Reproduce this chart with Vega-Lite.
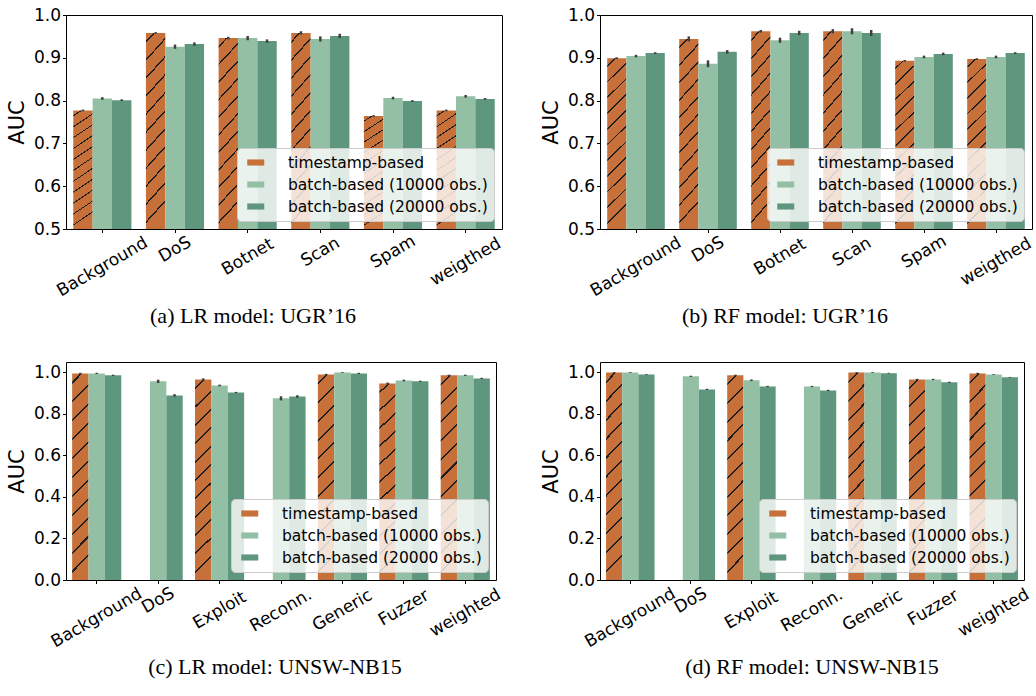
{
  "$schema": "https://vega.github.io/schema/vega-lite/v6.json",
  "padding": {"left": 5, "top": 5, "right": 0, "bottom": 0},
  "config": {
    "font": "DejaVu Sans",
    "view": {"stroke": "black", "strokeWidth": 1},
    "axis": {"labelFont": "DejaVu Sans", "labelFontSize": 17, "labelColor": "black", "titleFont": "DejaVu Sans", "titleFontSize": 21, "titleFontWeight": "normal", "titleColor": "black", "tickColor": "black", "tickSize": 3.5, "tickWidth": 1, "domain": false, "grid": false, "labelOverlap": false},
    "legend": {"orient": "bottom-right", "offset": 8, "padding": 6, "rowPadding": 5, "labelFont": "DejaVu Sans", "labelFontSize": 15.5, "labelColor": "black", "labelOffset": 28, "symbolType": "M-0.5,-0.36H1.5V0.36H-0.5Z", "symbolSize": 289, "symbolStrokeWidth": 0, "fillColor": "rgba(255,255,255,0.8)", "strokeColor": "#cccccc", "cornerRadius": 4, "labelLimit": 300},
    "title": {"font": "Liberation Serif", "fontSize": 22, "fontWeight": "normal", "color": "black", "orient": "bottom", "anchor": "middle", "offset": 7}
  },
  "datasets": {
    "a": [
      {"cat": "Background", "method": "timestamp-based", "auc": 0.777, "lo": 0.775, "hi": 0.779},
      {"cat": "Background", "method": "batch-based (10000 obs.)", "auc": 0.805, "lo": 0.802, "hi": 0.808},
      {"cat": "Background", "method": "batch-based (20000 obs.)", "auc": 0.801, "lo": 0.799, "hi": 0.803},
      {"cat": "DoS", "method": "timestamp-based", "auc": 0.958, "lo": 0.956, "hi": 0.960},
      {"cat": "DoS", "method": "batch-based (10000 obs.)", "auc": 0.926, "lo": 0.921, "hi": 0.931},
      {"cat": "DoS", "method": "batch-based (20000 obs.)", "auc": 0.932, "lo": 0.928, "hi": 0.936},
      {"cat": "Botnet", "method": "timestamp-based", "auc": 0.946, "lo": 0.943, "hi": 0.949},
      {"cat": "Botnet", "method": "batch-based (10000 obs.)", "auc": 0.946, "lo": 0.941, "hi": 0.951},
      {"cat": "Botnet", "method": "batch-based (20000 obs.)", "auc": 0.939, "lo": 0.935, "hi": 0.943},
      {"cat": "Scan", "method": "timestamp-based", "auc": 0.958, "lo": 0.954, "hi": 0.962},
      {"cat": "Scan", "method": "batch-based (10000 obs.)", "auc": 0.944, "lo": 0.938, "hi": 0.950},
      {"cat": "Scan", "method": "batch-based (20000 obs.)", "auc": 0.951, "lo": 0.946, "hi": 0.956},
      {"cat": "Spam", "method": "timestamp-based", "auc": 0.764, "lo": 0.762, "hi": 0.766},
      {"cat": "Spam", "method": "batch-based (10000 obs.)", "auc": 0.806, "lo": 0.803, "hi": 0.809},
      {"cat": "Spam", "method": "batch-based (20000 obs.)", "auc": 0.799, "lo": 0.797, "hi": 0.801},
      {"cat": "weigthed", "method": "timestamp-based", "auc": 0.777, "lo": 0.775, "hi": 0.779},
      {"cat": "weigthed", "method": "batch-based (10000 obs.)", "auc": 0.810, "lo": 0.807, "hi": 0.813},
      {"cat": "weigthed", "method": "batch-based (20000 obs.)", "auc": 0.804, "lo": 0.802, "hi": 0.806}
    ],
    "b": [
      {"cat": "Background", "method": "timestamp-based", "auc": 0.899, "lo": 0.897, "hi": 0.901},
      {"cat": "Background", "method": "batch-based (10000 obs.)", "auc": 0.904, "lo": 0.901, "hi": 0.907},
      {"cat": "Background", "method": "batch-based (20000 obs.)", "auc": 0.911, "lo": 0.909, "hi": 0.913},
      {"cat": "DoS", "method": "timestamp-based", "auc": 0.944, "lo": 0.938, "hi": 0.950},
      {"cat": "DoS", "method": "batch-based (10000 obs.)", "auc": 0.886, "lo": 0.878, "hi": 0.894},
      {"cat": "DoS", "method": "batch-based (20000 obs.)", "auc": 0.914, "lo": 0.910, "hi": 0.918},
      {"cat": "Botnet", "method": "timestamp-based", "auc": 0.962, "lo": 0.959, "hi": 0.965},
      {"cat": "Botnet", "method": "batch-based (10000 obs.)", "auc": 0.941, "lo": 0.935, "hi": 0.947},
      {"cat": "Botnet", "method": "batch-based (20000 obs.)", "auc": 0.958, "lo": 0.953, "hi": 0.963},
      {"cat": "Scan", "method": "timestamp-based", "auc": 0.962, "lo": 0.957, "hi": 0.967},
      {"cat": "Scan", "method": "batch-based (10000 obs.)", "auc": 0.962, "lo": 0.955, "hi": 0.969},
      {"cat": "Scan", "method": "batch-based (20000 obs.)", "auc": 0.958, "lo": 0.951, "hi": 0.965},
      {"cat": "Spam", "method": "timestamp-based", "auc": 0.893, "lo": 0.891, "hi": 0.895},
      {"cat": "Spam", "method": "batch-based (10000 obs.)", "auc": 0.902, "lo": 0.899, "hi": 0.905},
      {"cat": "Spam", "method": "batch-based (20000 obs.)", "auc": 0.909, "lo": 0.906, "hi": 0.912},
      {"cat": "weigthed", "method": "timestamp-based", "auc": 0.897, "lo": 0.895, "hi": 0.899},
      {"cat": "weigthed", "method": "batch-based (10000 obs.)", "auc": 0.902, "lo": 0.899, "hi": 0.905},
      {"cat": "weigthed", "method": "batch-based (20000 obs.)", "auc": 0.911, "lo": 0.909, "hi": 0.913}
    ],
    "c": [
      {"cat": "Background", "method": "timestamp-based", "auc": 0.995, "lo": 0.992, "hi": 0.998},
      {"cat": "Background", "method": "batch-based (10000 obs.)", "auc": 0.995, "lo": 0.992, "hi": 0.998},
      {"cat": "Background", "method": "batch-based (20000 obs.)", "auc": 0.986, "lo": 0.983, "hi": 0.989},
      {"cat": "DoS", "method": "batch-based (10000 obs.)", "auc": 0.957, "lo": 0.949, "hi": 0.965},
      {"cat": "DoS", "method": "batch-based (20000 obs.)", "auc": 0.889, "lo": 0.883, "hi": 0.895},
      {"cat": "Exploit", "method": "timestamp-based", "auc": 0.966, "lo": 0.961, "hi": 0.971},
      {"cat": "Exploit", "method": "batch-based (10000 obs.)", "auc": 0.937, "lo": 0.933, "hi": 0.941},
      {"cat": "Exploit", "method": "batch-based (20000 obs.)", "auc": 0.903, "lo": 0.900, "hi": 0.906},
      {"cat": "Reconn.", "method": "batch-based (10000 obs.)", "auc": 0.875, "lo": 0.865, "hi": 0.885},
      {"cat": "Reconn.", "method": "batch-based (20000 obs.)", "auc": 0.884, "lo": 0.878, "hi": 0.890},
      {"cat": "Generic", "method": "timestamp-based", "auc": 0.990, "lo": 0.987, "hi": 0.993},
      {"cat": "Generic", "method": "batch-based (10000 obs.)", "auc": 0.999, "lo": 0.997, "hi": 1.001},
      {"cat": "Generic", "method": "batch-based (20000 obs.)", "auc": 0.995, "lo": 0.992, "hi": 0.998},
      {"cat": "Fuzzer", "method": "timestamp-based", "auc": 0.946, "lo": 0.941, "hi": 0.951},
      {"cat": "Fuzzer", "method": "batch-based (10000 obs.)", "auc": 0.961, "lo": 0.957, "hi": 0.965},
      {"cat": "Fuzzer", "method": "batch-based (20000 obs.)", "auc": 0.957, "lo": 0.954, "hi": 0.960},
      {"cat": "weighted", "method": "timestamp-based", "auc": 0.986, "lo": 0.983, "hi": 0.989},
      {"cat": "weighted", "method": "batch-based (10000 obs.)", "auc": 0.986, "lo": 0.983, "hi": 0.989},
      {"cat": "weighted", "method": "batch-based (20000 obs.)", "auc": 0.971, "lo": 0.968, "hi": 0.974}
    ],
    "d": [
      {"cat": "Background", "method": "timestamp-based", "auc": 0.999, "lo": 0.997, "hi": 1.001},
      {"cat": "Background", "method": "batch-based (10000 obs.)", "auc": 0.999, "lo": 0.997, "hi": 1.001},
      {"cat": "Background", "method": "batch-based (20000 obs.)", "auc": 0.990, "lo": 0.988, "hi": 0.992},
      {"cat": "DoS", "method": "batch-based (10000 obs.)", "auc": 0.981, "lo": 0.978, "hi": 0.984},
      {"cat": "DoS", "method": "batch-based (20000 obs.)", "auc": 0.918, "lo": 0.915, "hi": 0.921},
      {"cat": "Exploit", "method": "timestamp-based", "auc": 0.986, "lo": 0.983, "hi": 0.989},
      {"cat": "Exploit", "method": "batch-based (10000 obs.)", "auc": 0.962, "lo": 0.958, "hi": 0.966},
      {"cat": "Exploit", "method": "batch-based (20000 obs.)", "auc": 0.932, "lo": 0.929, "hi": 0.935},
      {"cat": "Reconn.", "method": "batch-based (10000 obs.)", "auc": 0.932, "lo": 0.929, "hi": 0.935},
      {"cat": "Reconn.", "method": "batch-based (20000 obs.)", "auc": 0.913, "lo": 0.910, "hi": 0.916},
      {"cat": "Generic", "method": "timestamp-based", "auc": 0.999, "lo": 0.997, "hi": 1.001},
      {"cat": "Generic", "method": "batch-based (10000 obs.)", "auc": 0.999, "lo": 0.997, "hi": 1.001},
      {"cat": "Generic", "method": "batch-based (20000 obs.)", "auc": 0.996, "lo": 0.994, "hi": 0.998},
      {"cat": "Fuzzer", "method": "timestamp-based", "auc": 0.966, "lo": 0.963, "hi": 0.969},
      {"cat": "Fuzzer", "method": "batch-based (10000 obs.)", "auc": 0.966, "lo": 0.963, "hi": 0.969},
      {"cat": "Fuzzer", "method": "batch-based (20000 obs.)", "auc": 0.952, "lo": 0.949, "hi": 0.955},
      {"cat": "weighted", "method": "timestamp-based", "auc": 0.995, "lo": 0.992, "hi": 0.998},
      {"cat": "weighted", "method": "batch-based (10000 obs.)", "auc": 0.990, "lo": 0.988, "hi": 0.992},
      {"cat": "weighted", "method": "batch-based (20000 obs.)", "auc": 0.976, "lo": 0.974, "hi": 0.978}
    ]
  },
  "bounds": "flush",
  "columns": 2,
  "spacing": {"row": 133, "column": 98},
  "resolve": {"scale": {"x": "independent", "y": "independent", "color": "independent", "xOffset": "independent"}, "legend": {"color": "independent"}},
  "concat": [
    {
      "width": 436, "height": 214,
      "title": {"text": "(a) LR model: UGR’16", "dx": -31},
      "data": {"name": "a"},
      "encoding": {
        "x": {"field": "cat", "type": "nominal", "sort": ["Background", "DoS", "Botnet", "Scan", "Spam", "weigthed"], "scale": {"paddingInner": 0.2, "paddingOuter": 0.1}, "axis": {"title": null, "labelAngle": -30, "labelAlign": "center", "labelBaseline": "middle", "labelPadding": {"expr": "9 + 2.5*length(datum.label)"}}},
        "xOffset": {"field": "method", "type": "nominal", "sort": ["timestamp-based", "batch-based (10000 obs.)", "batch-based (20000 obs.)"], "scale": {"paddingInner": 0, "paddingOuter": 0}}
      },
      "layer": [
        {
          "mark": {"type": "bar", "clip": true},
          "encoding": {
            "y": {"field": "auc", "type": "quantitative", "scale": {"domain": [0.5, 1.0], "zero": false}, "axis": {"title": "AUC", "values": [0.5, 0.6, 0.7, 0.8, 0.9, 1.0], "format": ".1f", "labelPadding": 2, "titlePadding": 6}},
            "y2": {"datum": 0.5},
            "color": {
              "condition": {"test": "datum.method === 'timestamp-based'", "value": {"gradient": "linear", "x1": 0, "y1": 0, "x2": 0.11, "y2": 1, "stops": [{"offset": 0, "color": "#c8703a"}, {"offset": 0.0405, "color": "#c8703a"}, {"offset": 0.0405, "color": "#1e1e1e"}, {"offset": 0.0505, "color": "#1e1e1e"}, {"offset": 0.0505, "color": "#c8703a"}, {"offset": 0.1314, "color": "#c8703a"}, {"offset": 0.1314, "color": "#1e1e1e"}, {"offset": 0.1414, "color": "#1e1e1e"}, {"offset": 0.1414, "color": "#c8703a"}, {"offset": 0.2223, "color": "#c8703a"}, {"offset": 0.2223, "color": "#1e1e1e"}, {"offset": 0.2323, "color": "#1e1e1e"}, {"offset": 0.2323, "color": "#c8703a"}, {"offset": 0.3132, "color": "#c8703a"}, {"offset": 0.3132, "color": "#1e1e1e"}, {"offset": 0.3232, "color": "#1e1e1e"}, {"offset": 0.3232, "color": "#c8703a"}, {"offset": 0.4041, "color": "#c8703a"}, {"offset": 0.4041, "color": "#1e1e1e"}, {"offset": 0.4141, "color": "#1e1e1e"}, {"offset": 0.4141, "color": "#c8703a"}, {"offset": 0.495, "color": "#c8703a"}, {"offset": 0.495, "color": "#1e1e1e"}, {"offset": 0.505, "color": "#1e1e1e"}, {"offset": 0.505, "color": "#c8703a"}, {"offset": 0.5859, "color": "#c8703a"}, {"offset": 0.5859, "color": "#1e1e1e"}, {"offset": 0.5959, "color": "#1e1e1e"}, {"offset": 0.5959, "color": "#c8703a"}, {"offset": 0.6768, "color": "#c8703a"}, {"offset": 0.6768, "color": "#1e1e1e"}, {"offset": 0.6868, "color": "#1e1e1e"}, {"offset": 0.6868, "color": "#c8703a"}, {"offset": 0.7677, "color": "#c8703a"}, {"offset": 0.7677, "color": "#1e1e1e"}, {"offset": 0.7777, "color": "#1e1e1e"}, {"offset": 0.7777, "color": "#c8703a"}, {"offset": 0.8586, "color": "#c8703a"}, {"offset": 0.8586, "color": "#1e1e1e"}, {"offset": 0.8686, "color": "#1e1e1e"}, {"offset": 0.8686, "color": "#c8703a"}, {"offset": 0.9495, "color": "#c8703a"}, {"offset": 0.9495, "color": "#1e1e1e"}, {"offset": 0.9595, "color": "#1e1e1e"}, {"offset": 0.9595, "color": "#c8703a"}, {"offset": 1, "color": "#c8703a"}]}},
              "field": "method", "type": "nominal",
              "scale": {"domain": ["timestamp-based", "batch-based (10000 obs.)", "batch-based (20000 obs.)"], "range": ["#c8703a", "#93bfa5", "#5f967e"]},
              "legend": {"title": null, "encode": {"symbols": {"update": {"fill": {"signal": "datum.value === 'timestamp-based' ? {gradient: 'linear', x1: 0, y1: 0, x2: 1, y2: 0.353, stops: [{offset: 0, color: '#c8703a'}, {offset: 0.1, color: '#c8703a'}, {offset: 0.1, color: '#1e1e1e'}, {offset: 0.14, color: '#1e1e1e'}, {offset: 0.14, color: '#c8703a'}, {offset: 0.39, color: '#c8703a'}, {offset: 0.39, color: '#1e1e1e'}, {offset: 0.43, color: '#1e1e1e'}, {offset: 0.43, color: '#c8703a'}, {offset: 0.68, color: '#c8703a'}, {offset: 0.68, color: '#1e1e1e'}, {offset: 0.72, color: '#1e1e1e'}, {offset: 0.72, color: '#c8703a'}, {offset: 0.95, color: '#c8703a'}, {offset: 0.95, color: '#1e1e1e'}, {offset: 0.99, color: '#1e1e1e'}, {offset: 0.99, color: '#c8703a'}, {offset: 1, color: '#c8703a'}]} : datum.value === 'batch-based (10000 obs.)' ? '#93bfa5' : '#5f967e'"}}}}}
            }
          }
        },
        {
          "mark": {"type": "rule", "color": "#404040", "strokeWidth": 2.5, "clip": true},
          "encoding": {"y": {"field": "lo", "type": "quantitative"}, "y2": {"field": "hi"}}
        }
      ]
    },
    {
      "width": 432, "height": 214,
      "title": {"text": "(b) RF model: UGR’16", "dx": -31},
      "data": {"name": "b"},
      "encoding": {
        "x": {"field": "cat", "type": "nominal", "sort": ["Background", "DoS", "Botnet", "Scan", "Spam", "weigthed"], "scale": {"paddingInner": 0.2, "paddingOuter": 0.1}, "axis": {"title": null, "labelAngle": -30, "labelAlign": "center", "labelBaseline": "middle", "labelPadding": {"expr": "9 + 2.5*length(datum.label)"}}},
        "xOffset": {"field": "method", "type": "nominal", "sort": ["timestamp-based", "batch-based (10000 obs.)", "batch-based (20000 obs.)"], "scale": {"paddingInner": 0, "paddingOuter": 0}}
      },
      "layer": [
        {
          "mark": {"type": "bar", "clip": true},
          "encoding": {
            "y": {"field": "auc", "type": "quantitative", "scale": {"domain": [0.5, 1.0], "zero": false}, "axis": {"title": "AUC", "values": [0.5, 0.6, 0.7, 0.8, 0.9, 1.0], "format": ".1f", "labelPadding": 2, "titlePadding": 6}},
            "y2": {"datum": 0.5},
            "color": {
              "condition": {"test": "datum.method === 'timestamp-based'", "value": {"gradient": "linear", "x1": 0, "y1": 0, "x2": 0.11, "y2": 1, "stops": [{"offset": 0, "color": "#c8703a"}, {"offset": 0.0405, "color": "#c8703a"}, {"offset": 0.0405, "color": "#1e1e1e"}, {"offset": 0.0505, "color": "#1e1e1e"}, {"offset": 0.0505, "color": "#c8703a"}, {"offset": 0.1314, "color": "#c8703a"}, {"offset": 0.1314, "color": "#1e1e1e"}, {"offset": 0.1414, "color": "#1e1e1e"}, {"offset": 0.1414, "color": "#c8703a"}, {"offset": 0.2223, "color": "#c8703a"}, {"offset": 0.2223, "color": "#1e1e1e"}, {"offset": 0.2323, "color": "#1e1e1e"}, {"offset": 0.2323, "color": "#c8703a"}, {"offset": 0.3132, "color": "#c8703a"}, {"offset": 0.3132, "color": "#1e1e1e"}, {"offset": 0.3232, "color": "#1e1e1e"}, {"offset": 0.3232, "color": "#c8703a"}, {"offset": 0.4041, "color": "#c8703a"}, {"offset": 0.4041, "color": "#1e1e1e"}, {"offset": 0.4141, "color": "#1e1e1e"}, {"offset": 0.4141, "color": "#c8703a"}, {"offset": 0.495, "color": "#c8703a"}, {"offset": 0.495, "color": "#1e1e1e"}, {"offset": 0.505, "color": "#1e1e1e"}, {"offset": 0.505, "color": "#c8703a"}, {"offset": 0.5859, "color": "#c8703a"}, {"offset": 0.5859, "color": "#1e1e1e"}, {"offset": 0.5959, "color": "#1e1e1e"}, {"offset": 0.5959, "color": "#c8703a"}, {"offset": 0.6768, "color": "#c8703a"}, {"offset": 0.6768, "color": "#1e1e1e"}, {"offset": 0.6868, "color": "#1e1e1e"}, {"offset": 0.6868, "color": "#c8703a"}, {"offset": 0.7677, "color": "#c8703a"}, {"offset": 0.7677, "color": "#1e1e1e"}, {"offset": 0.7777, "color": "#1e1e1e"}, {"offset": 0.7777, "color": "#c8703a"}, {"offset": 0.8586, "color": "#c8703a"}, {"offset": 0.8586, "color": "#1e1e1e"}, {"offset": 0.8686, "color": "#1e1e1e"}, {"offset": 0.8686, "color": "#c8703a"}, {"offset": 0.9495, "color": "#c8703a"}, {"offset": 0.9495, "color": "#1e1e1e"}, {"offset": 0.9595, "color": "#1e1e1e"}, {"offset": 0.9595, "color": "#c8703a"}, {"offset": 1, "color": "#c8703a"}]}},
              "field": "method", "type": "nominal",
              "scale": {"domain": ["timestamp-based", "batch-based (10000 obs.)", "batch-based (20000 obs.)"], "range": ["#c8703a", "#93bfa5", "#5f967e"]},
              "legend": {"title": null, "encode": {"symbols": {"update": {"fill": {"signal": "datum.value === 'timestamp-based' ? {gradient: 'linear', x1: 0, y1: 0, x2: 1, y2: 0.353, stops: [{offset: 0, color: '#c8703a'}, {offset: 0.1, color: '#c8703a'}, {offset: 0.1, color: '#1e1e1e'}, {offset: 0.14, color: '#1e1e1e'}, {offset: 0.14, color: '#c8703a'}, {offset: 0.39, color: '#c8703a'}, {offset: 0.39, color: '#1e1e1e'}, {offset: 0.43, color: '#1e1e1e'}, {offset: 0.43, color: '#c8703a'}, {offset: 0.68, color: '#c8703a'}, {offset: 0.68, color: '#1e1e1e'}, {offset: 0.72, color: '#1e1e1e'}, {offset: 0.72, color: '#c8703a'}, {offset: 0.95, color: '#c8703a'}, {offset: 0.95, color: '#1e1e1e'}, {offset: 0.99, color: '#1e1e1e'}, {offset: 0.99, color: '#c8703a'}, {offset: 1, color: '#c8703a'}]} : datum.value === 'batch-based (10000 obs.)' ? '#93bfa5' : '#5f967e'"}}}}}
            }
          }
        },
        {
          "mark": {"type": "rule", "color": "#404040", "strokeWidth": 2.5, "clip": true},
          "encoding": {"y": {"field": "lo", "type": "quantitative"}, "y2": {"field": "hi"}}
        }
      ]
    },
    {
      "width": 430, "height": 218,
      "title": {"text": "(c) LR model: UNSW-NB15", "dx": -6},
      "data": {"name": "c"},
      "encoding": {
        "x": {"field": "cat", "type": "nominal", "sort": ["Background", "DoS", "Exploit", "Reconn.", "Generic", "Fuzzer", "weighted"], "scale": {"paddingInner": 0.2, "paddingOuter": 0.1}, "axis": {"title": null, "labelAngle": -30, "labelAlign": "center", "labelBaseline": "middle", "labelPadding": {"expr": "9 + 2.5*length(datum.label)"}}},
        "xOffset": {"field": "method", "type": "nominal", "sort": ["timestamp-based", "batch-based (10000 obs.)", "batch-based (20000 obs.)"], "scale": {"domain": ["timestamp-based", "batch-based (10000 obs.)", "batch-based (20000 obs.)"], "paddingInner": 0, "paddingOuter": 0}}
      },
      "layer": [
        {
          "mark": {"type": "bar", "clip": true},
          "encoding": {
            "y": {"field": "auc", "type": "quantitative", "scale": {"domain": [0, 1.05], "nice": false}, "axis": {"title": "AUC", "values": [0, 0.2, 0.4, 0.6, 0.8, 1.0], "format": ".1f", "labelPadding": 2, "titlePadding": 6}},
            "color": {
              "condition": {"test": "datum.method === 'timestamp-based'", "value": {"gradient": "linear", "x1": 0, "y1": 0, "x2": 0.08, "y2": 1, "stops": [{"offset": 0, "color": "#c8703a"}, {"offset": 0.0405, "color": "#c8703a"}, {"offset": 0.0405, "color": "#1e1e1e"}, {"offset": 0.0505, "color": "#1e1e1e"}, {"offset": 0.0505, "color": "#c8703a"}, {"offset": 0.1314, "color": "#c8703a"}, {"offset": 0.1314, "color": "#1e1e1e"}, {"offset": 0.1414, "color": "#1e1e1e"}, {"offset": 0.1414, "color": "#c8703a"}, {"offset": 0.2223, "color": "#c8703a"}, {"offset": 0.2223, "color": "#1e1e1e"}, {"offset": 0.2323, "color": "#1e1e1e"}, {"offset": 0.2323, "color": "#c8703a"}, {"offset": 0.3132, "color": "#c8703a"}, {"offset": 0.3132, "color": "#1e1e1e"}, {"offset": 0.3232, "color": "#1e1e1e"}, {"offset": 0.3232, "color": "#c8703a"}, {"offset": 0.4041, "color": "#c8703a"}, {"offset": 0.4041, "color": "#1e1e1e"}, {"offset": 0.4141, "color": "#1e1e1e"}, {"offset": 0.4141, "color": "#c8703a"}, {"offset": 0.495, "color": "#c8703a"}, {"offset": 0.495, "color": "#1e1e1e"}, {"offset": 0.505, "color": "#1e1e1e"}, {"offset": 0.505, "color": "#c8703a"}, {"offset": 0.5859, "color": "#c8703a"}, {"offset": 0.5859, "color": "#1e1e1e"}, {"offset": 0.5959, "color": "#1e1e1e"}, {"offset": 0.5959, "color": "#c8703a"}, {"offset": 0.6768, "color": "#c8703a"}, {"offset": 0.6768, "color": "#1e1e1e"}, {"offset": 0.6868, "color": "#1e1e1e"}, {"offset": 0.6868, "color": "#c8703a"}, {"offset": 0.7677, "color": "#c8703a"}, {"offset": 0.7677, "color": "#1e1e1e"}, {"offset": 0.7777, "color": "#1e1e1e"}, {"offset": 0.7777, "color": "#c8703a"}, {"offset": 0.8586, "color": "#c8703a"}, {"offset": 0.8586, "color": "#1e1e1e"}, {"offset": 0.8686, "color": "#1e1e1e"}, {"offset": 0.8686, "color": "#c8703a"}, {"offset": 0.9495, "color": "#c8703a"}, {"offset": 0.9495, "color": "#1e1e1e"}, {"offset": 0.9595, "color": "#1e1e1e"}, {"offset": 0.9595, "color": "#c8703a"}, {"offset": 1, "color": "#c8703a"}]}},
              "field": "method", "type": "nominal",
              "scale": {"domain": ["timestamp-based", "batch-based (10000 obs.)", "batch-based (20000 obs.)"], "range": ["#c8703a", "#93bfa5", "#5f967e"]},
              "legend": {"title": null, "encode": {"symbols": {"update": {"fill": {"signal": "datum.value === 'timestamp-based' ? {gradient: 'linear', x1: 0, y1: 0, x2: 1, y2: 0.353, stops: [{offset: 0, color: '#c8703a'}, {offset: 0.1, color: '#c8703a'}, {offset: 0.1, color: '#1e1e1e'}, {offset: 0.14, color: '#1e1e1e'}, {offset: 0.14, color: '#c8703a'}, {offset: 0.39, color: '#c8703a'}, {offset: 0.39, color: '#1e1e1e'}, {offset: 0.43, color: '#1e1e1e'}, {offset: 0.43, color: '#c8703a'}, {offset: 0.68, color: '#c8703a'}, {offset: 0.68, color: '#1e1e1e'}, {offset: 0.72, color: '#1e1e1e'}, {offset: 0.72, color: '#c8703a'}, {offset: 0.95, color: '#c8703a'}, {offset: 0.95, color: '#1e1e1e'}, {offset: 0.99, color: '#1e1e1e'}, {offset: 0.99, color: '#c8703a'}, {offset: 1, color: '#c8703a'}]} : datum.value === 'batch-based (10000 obs.)' ? '#93bfa5' : '#5f967e'"}}}}}
            }
          }
        },
        {
          "mark": {"type": "rule", "color": "#404040", "strokeWidth": 2.5, "clip": true},
          "encoding": {"y": {"field": "lo", "type": "quantitative"}, "y2": {"field": "hi"}}
        }
      ]
    },
    {
      "width": 424, "height": 218,
      "title": {"text": "(d) RF model: UNSW-NB15", "dx": 0},
      "data": {"name": "d"},
      "encoding": {
        "x": {"field": "cat", "type": "nominal", "sort": ["Background", "DoS", "Exploit", "Reconn.", "Generic", "Fuzzer", "weighted"], "scale": {"paddingInner": 0.2, "paddingOuter": 0.1}, "axis": {"title": null, "labelAngle": -30, "labelAlign": "center", "labelBaseline": "middle", "labelPadding": {"expr": "9 + 2.5*length(datum.label)"}}},
        "xOffset": {"field": "method", "type": "nominal", "sort": ["timestamp-based", "batch-based (10000 obs.)", "batch-based (20000 obs.)"], "scale": {"domain": ["timestamp-based", "batch-based (10000 obs.)", "batch-based (20000 obs.)"], "paddingInner": 0, "paddingOuter": 0}}
      },
      "layer": [
        {
          "mark": {"type": "bar", "clip": true},
          "encoding": {
            "y": {"field": "auc", "type": "quantitative", "scale": {"domain": [0, 1.05], "nice": false}, "axis": {"title": "AUC", "values": [0, 0.2, 0.4, 0.6, 0.8, 1.0], "format": ".1f", "labelPadding": 2, "titlePadding": 6}},
            "color": {
              "condition": {"test": "datum.method === 'timestamp-based'", "value": {"gradient": "linear", "x1": 0, "y1": 0, "x2": 0.08, "y2": 1, "stops": [{"offset": 0, "color": "#c8703a"}, {"offset": 0.0405, "color": "#c8703a"}, {"offset": 0.0405, "color": "#1e1e1e"}, {"offset": 0.0505, "color": "#1e1e1e"}, {"offset": 0.0505, "color": "#c8703a"}, {"offset": 0.1314, "color": "#c8703a"}, {"offset": 0.1314, "color": "#1e1e1e"}, {"offset": 0.1414, "color": "#1e1e1e"}, {"offset": 0.1414, "color": "#c8703a"}, {"offset": 0.2223, "color": "#c8703a"}, {"offset": 0.2223, "color": "#1e1e1e"}, {"offset": 0.2323, "color": "#1e1e1e"}, {"offset": 0.2323, "color": "#c8703a"}, {"offset": 0.3132, "color": "#c8703a"}, {"offset": 0.3132, "color": "#1e1e1e"}, {"offset": 0.3232, "color": "#1e1e1e"}, {"offset": 0.3232, "color": "#c8703a"}, {"offset": 0.4041, "color": "#c8703a"}, {"offset": 0.4041, "color": "#1e1e1e"}, {"offset": 0.4141, "color": "#1e1e1e"}, {"offset": 0.4141, "color": "#c8703a"}, {"offset": 0.495, "color": "#c8703a"}, {"offset": 0.495, "color": "#1e1e1e"}, {"offset": 0.505, "color": "#1e1e1e"}, {"offset": 0.505, "color": "#c8703a"}, {"offset": 0.5859, "color": "#c8703a"}, {"offset": 0.5859, "color": "#1e1e1e"}, {"offset": 0.5959, "color": "#1e1e1e"}, {"offset": 0.5959, "color": "#c8703a"}, {"offset": 0.6768, "color": "#c8703a"}, {"offset": 0.6768, "color": "#1e1e1e"}, {"offset": 0.6868, "color": "#1e1e1e"}, {"offset": 0.6868, "color": "#c8703a"}, {"offset": 0.7677, "color": "#c8703a"}, {"offset": 0.7677, "color": "#1e1e1e"}, {"offset": 0.7777, "color": "#1e1e1e"}, {"offset": 0.7777, "color": "#c8703a"}, {"offset": 0.8586, "color": "#c8703a"}, {"offset": 0.8586, "color": "#1e1e1e"}, {"offset": 0.8686, "color": "#1e1e1e"}, {"offset": 0.8686, "color": "#c8703a"}, {"offset": 0.9495, "color": "#c8703a"}, {"offset": 0.9495, "color": "#1e1e1e"}, {"offset": 0.9595, "color": "#1e1e1e"}, {"offset": 0.9595, "color": "#c8703a"}, {"offset": 1, "color": "#c8703a"}]}},
              "field": "method", "type": "nominal",
              "scale": {"domain": ["timestamp-based", "batch-based (10000 obs.)", "batch-based (20000 obs.)"], "range": ["#c8703a", "#93bfa5", "#5f967e"]},
              "legend": {"title": null, "encode": {"symbols": {"update": {"fill": {"signal": "datum.value === 'timestamp-based' ? {gradient: 'linear', x1: 0, y1: 0, x2: 1, y2: 0.353, stops: [{offset: 0, color: '#c8703a'}, {offset: 0.1, color: '#c8703a'}, {offset: 0.1, color: '#1e1e1e'}, {offset: 0.14, color: '#1e1e1e'}, {offset: 0.14, color: '#c8703a'}, {offset: 0.39, color: '#c8703a'}, {offset: 0.39, color: '#1e1e1e'}, {offset: 0.43, color: '#1e1e1e'}, {offset: 0.43, color: '#c8703a'}, {offset: 0.68, color: '#c8703a'}, {offset: 0.68, color: '#1e1e1e'}, {offset: 0.72, color: '#1e1e1e'}, {offset: 0.72, color: '#c8703a'}, {offset: 0.95, color: '#c8703a'}, {offset: 0.95, color: '#1e1e1e'}, {offset: 0.99, color: '#1e1e1e'}, {offset: 0.99, color: '#c8703a'}, {offset: 1, color: '#c8703a'}]} : datum.value === 'batch-based (10000 obs.)' ? '#93bfa5' : '#5f967e'"}}}}}
            }
          }
        },
        {
          "mark": {"type": "rule", "color": "#404040", "strokeWidth": 2.5, "clip": true},
          "encoding": {"y": {"field": "lo", "type": "quantitative"}, "y2": {"field": "hi"}}
        }
      ]
    }
  ]
}
